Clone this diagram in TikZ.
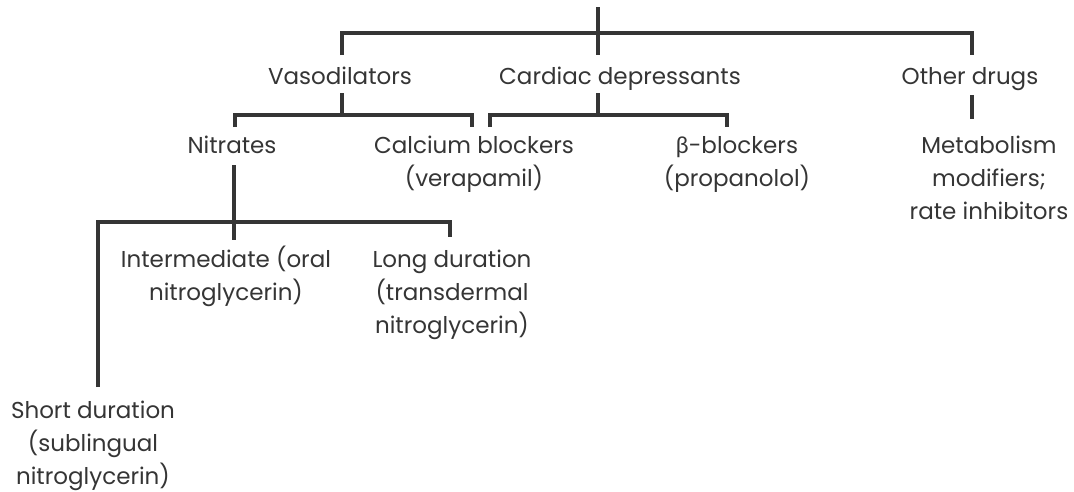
\documentclass[tikz,border=0pt]{standalone}
\usepackage{fontspec}
\setmainfont{Poppins}
\newfontfamily\greekfont{Lato}
\definecolor{ink}{HTML}{353535}
\begin{document}
\begin{tikzpicture}[x=1pt,y=-1pt,
  conn/.style={draw=ink,line width=3.2pt},
  lbl/.style={text=ink,font={\fontsize{23}{33}\selectfont},inner sep=0pt,align=center,anchor=base}]
\useasboundingbox (0,0) rectangle (1074,491);
% labels (base anchor = baseline of last line)
\node[lbl] (vaso) at (340,84) {Vasodilators};
\node[lbl] (card) at (620,84) {Cardiac depressants};
\node[lbl] (other) at (970,84) {Other drugs};
\node[lbl] (nitr) at (232,153) {Nitrates};
\node[lbl] (calc) at (474,186) {Calcium blockers\\(verapamil)};
\node[lbl] (beta) at (737,186) {{\greekfont β}-blockers\\(propanolol)};
\node[lbl] (meta) at (989,219) {Metabolism\\modifiers;\\rate inhibitors};
\node[lbl] (inter) at (226,300) {Intermediate (oral\\nitroglycerin)};
\node[lbl] (long) at (452,333) {Long duration\\(transdermal\\nitroglycerin)};
\node[lbl] (short) at (93,484) {Short duration\\(sublingual\\nitroglycerin)};
% junction points
\coordinate (root) at (598,7);
\coordinate (rj) at (598,33);
\coordinate (vtop) at (342,55);
\coordinate (ctop) at (598,55);
\coordinate (otop) at (972,55);
\coordinate (vbot) at (342,93);
\coordinate (vj) at (342,115);
\coordinate (nt) at (235,127);
\coordinate (cat) at (472,127);
\coordinate (cbot) at (598,93);
\coordinate (cj) at (598,115);
\coordinate (cb) at (490,127);
\coordinate (bt) at (727,127);
\coordinate (obot) at (972,95);
\coordinate (mt) at (972,119);
\coordinate (nbot) at (234,165);
\coordinate (nj) at (234,222);
\coordinate (it) at (234,240);
\coordinate (lt) at (450,237);
\coordinate (st) at (98,387);
% connectors
\draw[conn] (root) -- (ctop);
\draw[conn] (vtop) |- (rj) -| (otop);
\draw[conn] (vbot) -- (vj);
\draw[conn] (nt) |- (vj) -| (cat);
\draw[conn] (cbot) -- (cj);
\draw[conn] (cb) |- (cj) -| (bt);
\draw[conn] (obot) -- (mt);
\draw[conn] (nbot) -- (it);
\draw[conn] (st) |- (nj) -| (lt);
\end{tikzpicture}
\end{document}
